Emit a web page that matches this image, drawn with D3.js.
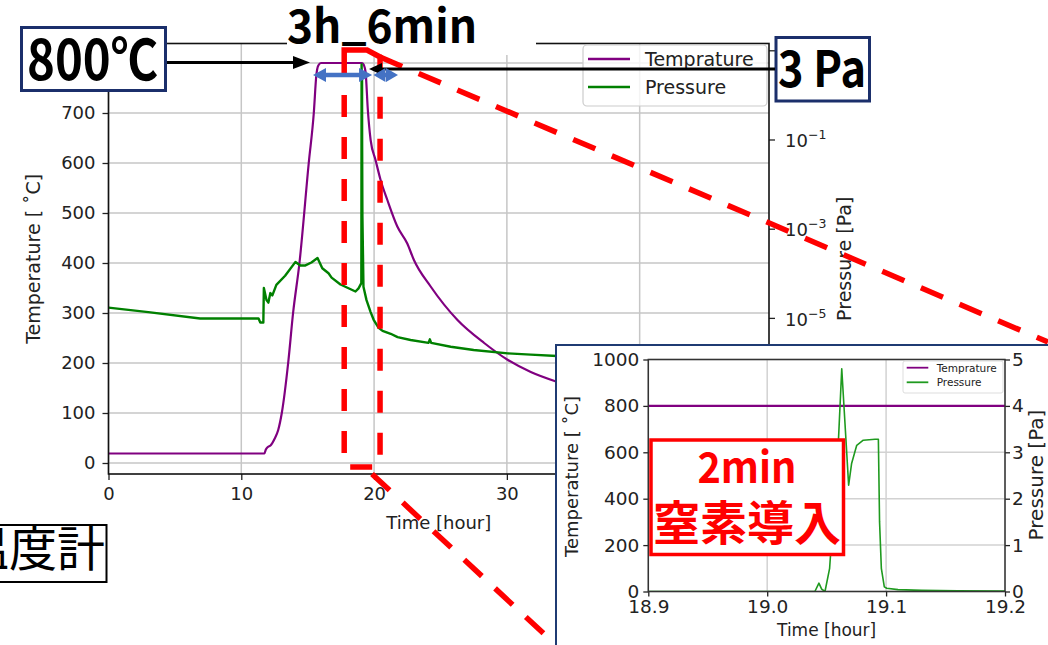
<!DOCTYPE html>
<html>
<head>
<meta charset="utf-8">
<script src="https://cdn.jsdelivr.net/npm/d3@7"></script>
<style>
  html, body { margin: 0; padding: 0; background: #fff; }
  svg { display: block; }
</style>
</head>
<body>
<svg id="chart" width="1048" height="645"></svg>
<script>
// ---- Annealing run: furnace temperature and chamber pressure vs. time ----
const seriesNames = ["Temprature", "Pressure"];

// Temperature [°C] (left axis)
const tempHours  = [0, 5, 11.74, 11.85, 12.0, 12.2, 12.5, 12.78, 13.05, 13.53, 13.9, 14.38, 15.08, 15.46, 15.65, 15.8, 16.0,
                    19.1, 19.23, 19.36, 19.53, 19.74, 20.11, 20.49, 21.0, 21.75, 22.5, 23.0, 24.26, 26.28, 28.29, 30.08, 31.8, 33.7];
const tempValues = [19, 19, 19, 27, 32, 35, 48, 66, 100, 200, 300, 400, 600, 700, 775, 795, 800,
                    800, 796, 782, 706, 646, 606, 566, 526, 473, 439, 406, 353, 286, 240, 206, 182, 163];

// Pressure [Pa] (right axis, log)
const pressHours  = [0, 3, 6.9, 11.3, 11.43, 11.66, 11.7, 11.9, 12.04, 12.19, 12.34, 12.64, 13.3, 14.08, 14.45, 14.83, 15.28, 15.74,
                     16.1, 16.57, 16.8, 17.47, 18.6, 18.83, 19.04, 19.06, 19.068, 19.08, 19.094, 19.1, 19.12, 19.2, 19.43, 19.74,
                     19.96, 20.34, 20.64, 21.25, 21.77, 22.75, 24.1, 24.2, 24.3, 25.77, 27.5, 30.07, 31.8, 33.77];
const pressValues = [1.7e-5, 1.35e-5, 9.7e-6, 9.7e-6, 7.9e-6, 7.9e-6, 4.7e-5, 2.5e-5, 2.2e-5, 3.6e-5, 3.2e-5, 5.5e-5, 8.8e-5, 1.8e-4, 1.5e-4, 1.5e-4, 1.75e-4, 2.2e-4,
                     1.3e-4, 1.0e-4, 8.0e-5, 5.6e-5, 3.9e-5, 4.6e-5, 6e-5, 4.8, 2.3, 3.2, 3.27, 0.08, 2e-3, 5e-5, 2.5e-5, 1.35e-5,
                     9.2e-6, 6.0e-6, 5.1e-6, 4.4e-6, 3.7e-6, 3.2e-6, 2.75e-6, 3.3e-6, 2.75e-6, 2.25e-6, 1.9e-6, 1.6e-6, 1.5e-6, 1.4e-6];

const xTicks     = [0, 10, 20, 30, 40];
const tempTicks  = [0, 100, 200, 300, 400, 500, 600, 700, 800];
const pressTicks = [1e-7, 1e-5, 1e-3, 1e-1, 1e1];

// ---- Nitrogen inlet detail (18.9 h – 19.2 h) ----
const zoomHours    = [18.9, 19.0401, 19.0435, 19.0458, 19.0486, 19.0525, 19.0600, 19.0627, 19.0685, 19.0710, 19.0753, 19.0808,
                      19.0907, 19.0935, 19.0945, 19.0960, 19.0985, 19.1005, 19.1100, 19.1300, 19.1600, 19.2];
const zoomPressure = [0, 0, 0.18, 0.05, 0, 0.5, 3.3, 4.8, 2.29, 2.76, 3.15, 3.26,
                      3.28, 3.28, 1.5, 0.5, 0.1, 0.07, 0.04, 0.025, 0.015, 0.01];
const zoomTempHours  = [18.9, 19.2];
const zoomTempValues = [800, 800];
const zoomXTicks     = [18.9, 19.0, 19.1, 19.2];
const zoomTempTicks  = [0, 200, 400, 600, 800, 1000];
const zoomPressTicks = [0, 1, 2, 3, 4, 5];

// ---- styling ----
const FONT = "'DejaVu Sans', sans-serif";
const JFONT = "'Noto Sans CJK JP', 'Noto Sans', sans-serif";
const PURPLE = "#800080", GREEN = "#008000", GRID = "#c6c6c6", INK = "#222";
const NAVY = "#1b2f6b", RED = "#ff0000", BLUE = "#4472c4";

const svg = d3.select("#chart");
svg.append("rect").attr("width", 1048).attr("height", 645).attr("fill", "#fff");
const defs = svg.append("defs");

// =================== main chart ===================
const M = { l: 108.5, r: 769, t: 43.5, b: 474 };
const x  = d3.scaleLinear().domain([0, 49.74]).range([M.l, M.r]);
const yT = d3.scaleLinear().domain([-22, 839]).range([M.b, M.t]);
const yP = d3.scaleLog().domain([3.16e-9, 14.2]).range([M.b, M.t]);

defs.append("clipPath").attr("id", "clipMain")
  .append("rect").attr("x", M.l).attr("y", M.t).attr("width", M.r - M.l).attr("height", M.b - M.t);

const main = svg.append("g").attr("font-family", FONT);

// grid
main.append("g").selectAll("line").data(xTicks).join("line")
  .attr("x1", d => x(d)).attr("x2", d => x(d)).attr("y1", M.t).attr("y2", M.b)
  .attr("stroke", GRID).attr("stroke-width", 1.5);
main.append("g").selectAll("line").data(tempTicks).join("line")
  .attr("x1", M.l).attr("x2", M.r).attr("y1", d => yT(d)).attr("y2", d => yT(d))
  .attr("stroke", GRID).attr("stroke-width", 1.5);

// series
const plot = main.append("g").attr("clip-path", "url(#clipMain)");
plot.append("path").datum(tempValues)
  .attr("d", d3.line().curve(d3.curveMonotoneX).x((d, i) => x(tempHours[i])).y(d => yT(d)))
  .attr("fill", "none").attr("stroke", PURPLE).attr("stroke-width", 2.2).attr("stroke-linejoin", "round");
plot.append("path").datum(pressValues)
  .attr("d", d3.line().x((d, i) => x(pressHours[i])).y(d => yP(d)))
  .attr("fill", "none").attr("stroke", GREEN).attr("stroke-width", 2.4).attr("stroke-linejoin", "round");

// axes
function styleAxis(g, size) {
  g.attr("font-family", FONT).attr("font-size", size);
  g.select(".domain").remove();
  g.selectAll(".tick line").attr("stroke", INK).attr("stroke-width", 1.3);
  g.selectAll(".tick text").attr("fill", INK);
}
// labels that sit under the 800℃ tag and the detail panel are left blank
main.append("g").attr("transform", `translate(${M.l},0)`)
  .call(d3.axisLeft(yT).tickValues(tempTicks).tickSize(6).tickPadding(7).tickFormat(d => d >= 800 ? "" : d))
  .call(g => styleAxis(g, 18));
main.append("g").attr("transform", `translate(0,${M.b})`)
  .call(d3.axisBottom(x).tickValues(xTicks).tickSize(6).tickPadding(7).tickFormat(d => d >= 40 ? "" : d))
  .call(g => styleAxis(g, 18));
const axR = main.append("g").attr("transform", `translate(${M.r},0)`)
  .call(d3.axisRight(yP).tickValues(pressTicks).tickSize(6).tickFormat(() => ""))
  .call(g => styleAxis(g, 18));
axR.selectAll(".tick").filter(d => d < 1).each(function (d) {
  const e = Math.round(Math.log10(d));
  const t = d3.select(this).append("text").attr("x", 16).attr("dy", "0.4em")
    .attr("fill", INK).attr("text-anchor", "start");
  t.append("tspan").text("10");
  t.append("tspan").attr("font-size", 12.5).attr("dy", -8).text(e < 0 ? "\u2212" + Math.abs(e) : String(e));
});

// spines
main.append("rect").attr("x", M.l).attr("y", M.t).attr("width", M.r - M.l).attr("height", M.b - M.t)
  .attr("fill", "none").attr("stroke", "#111").attr("stroke-width", 1.6);

// axis titles
main.append("text").attr("x", (M.l + M.r) / 2).attr("y", 528.5).attr("text-anchor", "middle")
  .attr("font-size", 18).attr("fill", INK).text("Time [hour]");
main.append("text").attr("transform", `translate(40,${(M.t + M.b) / 2}) rotate(-90)`).attr("text-anchor", "middle")
  .attr("font-size", 19).attr("fill", INK).text("Temperature [ \u02daC]");
main.append("text").attr("transform", `translate(851,${(M.t + M.b) / 2}) rotate(-90)`).attr("text-anchor", "middle")
  .attr("font-size", 19).attr("fill", INK).text("Pressure [Pa]");

// legend
const leg = main.append("g");
leg.append("rect").attr("x", 583).attr("y", 45).attr("width", 184).attr("height", 61).attr("rx", 4)
  .attr("fill", "#fff").attr("fill-opacity", 0.8).attr("stroke", "#cccccc").attr("stroke-width", 1.2);
[PURPLE, GREEN].forEach((c, i) => {
  const ly = 59 + i * 28;
  leg.append("line").attr("x1", 588).attr("x2", 630).attr("y1", ly).attr("y2", ly)
    .attr("stroke", c).attr("stroke-width", 2.6);
  leg.append("text").attr("x", 645).attr("y", ly + 7).attr("font-size", 19).attr("fill", INK).text(seriesNames[i]);
});

// =================== hold-time caption over the top ===================
svg.append("rect").attr("x", 287).attr("y", 0).attr("width", 249).attr("height", 55).attr("fill", "#fff");
const cap = svg.append("text").attr("x", 287).attr("y", 43).attr("font-family", JFONT).attr("font-weight", 700)
  .attr("font-size", 46).attr("textLength", 190).attr("lengthAdjust", "spacingAndGlyphs").attr("fill", "#000");
cap.append("tspan").text("3h");
cap.append("tspan").attr("dy", -4).text("_");
cap.append("tspan").attr("dy", 4).text("6min");

// thermometer tag at the left edge
svg.append("rect").attr("x", -5).attr("y", 525).attr("width", 111.5).attr("height", 57)
  .attr("fill", "#fff").attr("stroke", "#000").attr("stroke-width", 2);
svg.append("text").attr("x", 105).attr("y", 566).attr("text-anchor", "end").attr("font-family", JFONT)
  .attr("font-weight", 400).attr("font-size", 48).attr("fill", "#000").text("温度計");

// =================== zoom window connectors ===================
const zx0 = x(17.75), zx1 = x(20.45), zyTop = yT(826), zyBot = yT(-8);
const callout = svg.append("g");
callout.append("path")
  .attr("d", `M${zx1},${yT(812)} L1048,342`)
  .attr("fill", "none").attr("stroke", RED).attr("stroke-width", 5.5).attr("stroke-dasharray", "24,18");
callout.append("path")
  .attr("d", `M372,474 L556,645`)
  .attr("fill", "none").attr("stroke", RED).attr("stroke-width", 5.5).attr("stroke-dasharray", "24,18");

// =================== inset: nitrogen inlet ===================
const I = { l: 648.3, r: 1005, t: 359.5, b: 591.5 };
const ix  = d3.scaleLinear().domain([18.9, 19.2]).range([I.l, I.r]);
const iyT = d3.scaleLinear().domain([0, 1000]).range([I.b, I.t]);
const iyP = d3.scaleLinear().domain([0, 5]).range([I.b, I.t]);

defs.append("clipPath").attr("id", "clipInset")
  .append("rect").attr("x", I.l).attr("y", I.t - 2).attr("width", I.r - I.l).attr("height", I.b - I.t + 2);

const inset = svg.append("g").attr("font-family", FONT);
inset.append("rect").attr("x", 556).attr("y", 345).attr("width", 520).attr("height", 320)
  .attr("fill", "#fff").attr("stroke", "#1f3b73").attr("stroke-width", 2);

inset.append("g").selectAll("line").data(zoomXTicks).join("line")
  .attr("x1", d => ix(d)).attr("x2", d => ix(d)).attr("y1", I.t).attr("y2", I.b)
  .attr("stroke", "#d2d2d2").attr("stroke-width", 1.5);
inset.append("g").selectAll("line").data(zoomTempTicks).join("line")
  .attr("x1", I.l).attr("x2", I.r).attr("y1", d => iyT(d)).attr("y2", d => iyT(d))
  .attr("stroke", "#d2d2d2").attr("stroke-width", 1.5);

const iplot = inset.append("g").attr("clip-path", "url(#clipInset)");
iplot.append("path").datum(zoomTempValues)
  .attr("d", d3.line().x((d, i) => ix(zoomTempHours[i])).y(d => iyT(d)))
  .attr("fill", "none").attr("stroke", PURPLE).attr("stroke-width", 2.2);
iplot.append("path").datum(zoomPressure)
  .attr("d", d3.line().x((d, i) => ix(zoomHours[i])).y(d => iyP(d)))
  .attr("fill", "none").attr("stroke", "#1f9a1f").attr("stroke-width", 1.6).attr("stroke-linejoin", "round");

inset.append("g").attr("transform", `translate(${I.l},0)`)
  .call(d3.axisLeft(iyT).tickValues(zoomTempTicks).tickSize(5).tickPadding(4).tickFormat(d3.format("d")))
  .call(g => styleAxis(g, 18.5));
inset.append("g").attr("transform", `translate(${I.r},0)`)
  .call(d3.axisRight(iyP).tickValues(zoomPressTicks).tickSize(5).tickPadding(2).tickFormat(d3.format("d")))
  .call(g => styleAxis(g, 18.5));
inset.append("g").attr("transform", `translate(0,${I.b})`)
  .call(d3.axisBottom(ix).tickValues(zoomXTicks).tickSize(5).tickPadding(3).tickFormat(d3.format(".1f")))
  .call(g => styleAxis(g, 18.5));
inset.append("rect").attr("x", I.l).attr("y", I.t).attr("width", I.r - I.l).attr("height", I.b - I.t)
  .attr("fill", "none").attr("stroke", "#333").attr("stroke-width", 1.5);

inset.append("text").attr("x", (I.l + I.r) / 2).attr("y", 636).attr("text-anchor", "middle")
  .attr("font-size", 17).attr("fill", INK).text("Time [hour]");
inset.append("text").attr("transform", `translate(578,476.5) rotate(-90)`).attr("text-anchor", "middle")
  .attr("font-size", 18).attr("fill", INK).text("Temperature [ \u02daC]");
inset.append("text").attr("transform", `translate(1043,475) rotate(-90)`).attr("text-anchor", "middle")
  .attr("font-size", 20).attr("fill", INK).text("Pressure [Pa]");

// inset legend
const ileg = inset.append("g");
ileg.append("rect").attr("x", 903).attr("y", 361).attr("width", 100).attr("height", 32).attr("rx", 2)
  .attr("fill", "#fff").attr("fill-opacity", 0.8).attr("stroke", "#dddddd").attr("stroke-width", 1);
[PURPLE, "#1f9a1f"].forEach((c, i) => {
  const ly = 367.7 + i * 14.6;
  ileg.append("line").attr("x1", 906.7).attr("x2", 928.3).attr("y1", ly).attr("y2", ly)
    .attr("stroke", c).attr("stroke-width", 1.8);
  ileg.append("text").attr("x", 936.7).attr("y", ly + 3.8).attr("font-size", 10.5).attr("fill", INK).text(seriesNames[i]);
});

// label: 2-minute nitrogen inlet
inset.append("rect").attr("x", 651).attr("y", 440).attr("width", 192.5).attr("height", 114.5)
  .attr("fill", "#fff").attr("stroke", RED).attr("stroke-width", 3.5);
inset.append("text").attr("x", 747).attr("y", 483).attr("text-anchor", "middle").attr("font-family", JFONT)
  .attr("font-weight", 700).attr("font-size", 42).attr("textLength", 99).attr("lengthAdjust", "spacingAndGlyphs")
  .attr("fill", RED).text("2min");
inset.append("text").attr("x", 747).attr("y", 540).attr("text-anchor", "middle").attr("font-family", JFONT)
  .attr("font-weight", 700).attr("font-size", 47).attr("fill", RED).text("窒素導入");

// =================== value tags and arrows ===================
function arrow(g, x1, x2, y, color, width, headLen, headHalf, both) {
  const dir = Math.sign(x2 - x1);
  g.append("line").attr("x1", both ? x1 + dir * headLen * 0.8 : x1).attr("x2", x2 - dir * headLen * 0.8)
    .attr("y1", y).attr("y2", y).attr("stroke", color).attr("stroke-width", width);
  const head = (tip, d) => g.append("polygon")
    .attr("points", `${tip},${y} ${tip - d * headLen},${y - headHalf} ${tip - d * headLen},${y + headHalf}`)
    .attr("fill", color);
  head(x2, dir);
  if (both) head(x1, -dir);
}
const tags = svg.append("g");

// 800 °C tag
tags.append("rect").attr("x", 21.5).attr("y", 27.5).attr("width", 144).attr("height", 63)
  .attr("fill", "#fff").attr("stroke", NAVY).attr("stroke-width", 3);
tags.append("text").attr("x", 27).attr("y", 80).attr("font-family", JFONT).attr("font-weight", 700)
  .attr("font-size", 56).attr("textLength", 131).attr("lengthAdjust", "spacingAndGlyphs")
  .attr("fill", "#000").text("800℃");
arrow(tags, 167, 310, 62.5, "#000", 3, 17, 6.5, false);

// 3 Pa tag
tags.append("rect").attr("x", 776).attr("y", 37.5).attr("width", 93.5).attr("height", 63.5)
  .attr("fill", "#fff").attr("stroke", NAVY).attr("stroke-width", 3);
tags.append("text").attr("x", 778).attr("y", 87).attr("font-family", JFONT).attr("font-weight", 700)
  .attr("font-size", 50).attr("textLength", 88).attr("lengthAdjust", "spacingAndGlyphs")
  .attr("fill", "#000").text("3 Pa");
arrow(tags, 775, 369, 69, "#000", 3, 13, 6, false);

// zoom window outline (solid snipped top, dashed sides and bottom)
callout.raise();
callout.append("path")
  .attr("d", `M${zx0},77 V${zyTop} H367 L${zx1},57 V77`)
  .attr("fill", "none").attr("stroke", RED).attr("stroke-width", 5.5);
callout.append("path")
  .attr("d", `M${zx0},95 V${zyBot} H${zx1} V77`)
  .attr("fill", "none").attr("stroke", RED).attr("stroke-width", 5.5).attr("stroke-dasharray", "22,20");
inset.raise();
tags.raise();

// hold-time span arrows
const spans = svg.append("g");
arrow(spans, x(15.4), x(19.85), 75, BLUE, 4.5, 13, 7, true);
arrow(spans, x(19.95), x(21.8), 75, BLUE, 4.5, 12, 7, true);
</script>
</body>
</html>
